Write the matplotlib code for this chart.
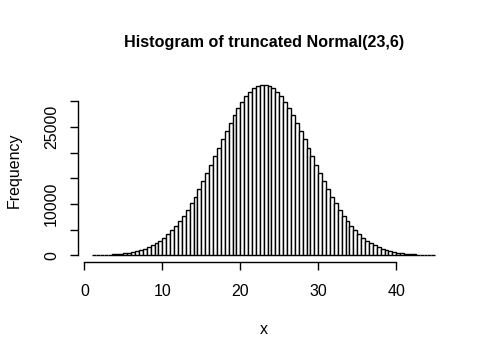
import numpy as np
import matplotlib
matplotlib.use("Agg")
import matplotlib.pyplot as plt

plt.rcParams['font.family'] = ['Liberation Sans', 'DejaVu Sans']

# Histogram bins: start 1, width 0.5, 88 bins up to 45
bin_start = 1.0
bin_width = 0.5
counts = [47, 63, 84, 112, 148, 194, 252, 326, 418, 533, 675, 849, 1060, 1315,
          1619, 1981, 2407, 2903, 3477, 4136, 4885, 5732, 6679, 7726, 8878,
          10130, 11479, 12918, 14436, 16021, 17656, 19325, 21004, 22672, 24302,
          25869, 27347, 28709, 29930, 30988, 31861, 32531, 32986, 33216,
          33230, 32970, 32540, 31850, 30990, 29920, 28720, 27340, 25880, 24290,
          22680, 21000, 19330, 17650, 16030, 14430, 12920, 11470, 10140, 8870,
          7730, 6680, 5730, 4890, 4130, 3480, 2900, 2410, 1980, 1620, 1310,
          1060, 850, 676, 532, 419, 325, 253, 193, 149, 111, 85, 62, 48]
x_ticks = [0, 10, 20, 30, 40]
y_ticks = [0, 5000, 10000, 15000, 20000, 25000, 30000]
y_tick_labels = ['0', '', '10000', '', '', '25000', '']
title = 'Histogram of truncated Normal(23,6)'
xlabel = 'x'
ylabel = 'Frequency'

edges = bin_start + bin_width * np.arange(len(counts) + 1)

W, H = 490, 360
fig = plt.figure(figsize=(W / 100, H / 100), dpi=100)
left, right, top, bottom = 78.4, 449.0, 78.0, 262.3
ax = fig.add_axes([left / W, 1 - bottom / H, (right - left) / W, (bottom - top) / H])

ax.bar(edges[:-1], counts, width=bin_width, align='edge', facecolor='white',
       edgecolor='black', linewidth=1.0)

xr = edges[-1] - edges[0]
ax.set_xlim(edges[0] - 0.04 * xr, edges[-1] + 0.04 * xr)
ym = max(counts)
ax.set_ylim(-0.04 * ym, 1.04 * ym)

for s in ['top', 'right']:
    ax.spines[s].set_visible(False)
ax.spines['bottom'].set_bounds(x_ticks[0], x_ticks[-1])
ax.spines['left'].set_bounds(y_ticks[0], y_ticks[-1])
for s in ['bottom', 'left']:
    ax.spines[s].set_linewidth(1.0)

ax.set_xticks(x_ticks)
ax.set_xticklabels([str(t) for t in x_ticks])
ax.set_yticks(y_ticks)
ax.set_yticklabels(y_tick_labels, rotation=90, va='center')
ax.tick_params(axis='both', direction='out', length=5.8, width=1.0,
               labelsize=11.5, color='black', labelcolor='black')
ax.tick_params(axis='x', pad=10)
ax.tick_params(axis='y', pad=8)

ax.text(0.5 + 0.5 * ((left + right) / W - 1), 1 - 42.5 / H, title,
        transform=fig.transFigure, ha='center', va='center', fontsize=11.6,
        fontweight='bold')
fig.text((left + right) / 2 / W, 1 - 330 / H, xlabel, ha='center', va='center',
         fontsize=11.5)
fig.text(14 / W, 1 - 170 / H, ylabel, ha='center', va='center', rotation=90,
         fontsize=11.5)

fig.savefig('out.png', dpi=100)
